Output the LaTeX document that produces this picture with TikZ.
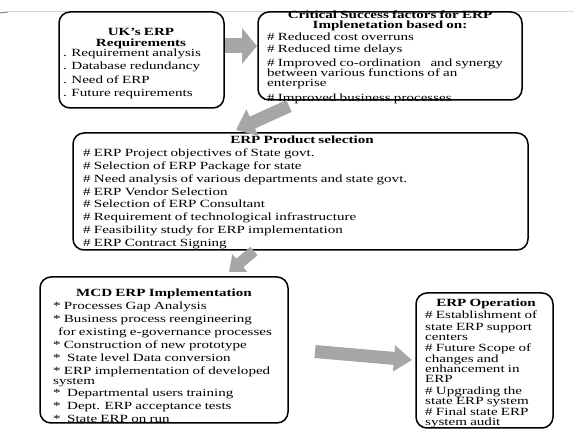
\documentclass[tikz,border=0pt]{standalone}
\usepackage{fontspec}
\setmainfont{Liberation Serif}[FakeStretch=1.37,WordSpace=0.85]
\usetikzlibrary{arrows.meta}
\definecolor{agray}{RGB}{166,166,166}
\definecolor{rulecol}{RGB}{205,218,230}
\begin{document}
\begin{tikzpicture}[x=1pt,y=-1pt,
  box/.style={draw=black, line width=1.5pt, rounded corners=11pt, inner sep=0pt},
  txt/.style={inner sep=0pt, anchor=north west, align=left},
  ttl/.style={inner sep=0pt, anchor=north, align=center},
  arrA/.style={draw=agray, line width=15pt, -{Triangle[length=15pt,width=35pt]}},
  arrB/.style={draw=agray, line width=13pt, -{Triangle[length=18pt,width=28pt]}},
  arrC/.style={draw=agray, line width=11pt, -{Triangle[length=14pt,width=22pt]}},
  arrD/.style={draw=agray, line width=13pt, -{Triangle[length=18pt,width=25pt]}}]
\useasboundingbox (0,0) rectangle (574,430);
% faint top rule
\draw[rulecol, line width=0.8pt] (8,11) -- (574,11);
\draw[gray, line width=1pt] (0,13) -- (8,12);

% boxes
\node[box, minimum width=165pt, minimum height=96pt] (b1) at (141.5,60) {};
\node[box, minimum width=264pt, minimum height=88pt] (b2) at (390,56) {};
\node[box, minimum width=455pt, minimum height=117pt] (b3) at (300.5,191.5) {};
\node[box, minimum width=248pt, minimum height=146pt] (b4) at (164,350) {};
\node[box, minimum width=137pt, minimum height=135pt] (b5) at (484.5,360.5) {};

% arrow end points
\coordinate (a1s) at (225,46);   \coordinate (a1e) at (257,46);
\coordinate (a2s) at (289,106);  \coordinate (a2e) at (236,130);
\coordinate (a3s) at (254,251);  \coordinate (a3e) at (229,272);
\coordinate (a4s) at (315,351.5);\coordinate (a4e) at (412,360);
\draw[arrA] (a1s) -- (a1e);
\draw[arrB] (a2s) -- (a2e);
\draw[arrC] (a3s) -- (a3e);
\draw[arrD] (a4s) -- (a4e);

% box 1
\node[ttl, font=\fontsize{11}{11}\selectfont\bfseries] (t1) at (141,27.6) {UK's ERP\\Requirements};
\node[txt, font=\fontsize{11}{13.3}\selectfont] (i1) at (63,48.6)
 {. Requirement analysis\\. Database redundancy\\. Need of ERP\\. Future requirements};

% box 2
\node[ttl, font=\fontsize{11}{10}\selectfont\bfseries] (t2) at (390,10.6)
 {Critical Success factors for ERP\\Implenetation based on:};
\node[txt, font=\fontsize{11}{10.5}\selectfont] (i2) at (267,32.6)
 {\# Reduced cost overruns\\[1.5pt]
  \# Reduced time delays\\[3.5pt]
  \# Improved co-ordination\ \ \ and synergy\\[-0.5pt]
  between various functions of an\\[-0.5pt]
  enterprise\\[4.5pt]
  \# Improved business processes};

% box 3
\node[ttl, font=\fontsize{11}{11}\selectfont\bfseries] (t3) at (302,135.6) {ERP Product selection};
\node[txt, font=\fontsize{11}{12.86}\selectfont] (i3) at (83,148.6)
 {\# ERP Project objectives of State govt.\\
  \# Selection of ERP Package for state\\
  \# Need analysis of various departments and state govt.\\
  \# ERP Vendor Selection\\
  \# Selection of ERP Consultant\\
  \# Requirement of technological infrastructure\\
  \# Feasibility study for ERP implementation\\
  \# ERP Contract Signing};

% box 4
\node[ttl, font=\fontsize{11}{11}\selectfont\bfseries] (t4) at (164,288.6) {MCD ERP Implementation};
\node[txt, font=\fontsize{11}{13}\selectfont] (i4) at (53,301.6)
 {* Processes Gap Analysis\\
  * Business process reengineering\\
  \hspace*{5pt}for existing e-governance processes\\
  * Construction of new prototype\\
  *\ \ State level Data conversion\\
  * ERP implementation of developed\\[-3pt]
  system\\[-1pt]
  *\ \ Departmental users training\\
  *\ \ Dept. ERP acceptance tests\\
  *\ \ State ERP on run};

% box 5
\node[ttl, font=\fontsize{11}{11}\selectfont\bfseries] (t5) at (486,298.6) {ERP Operation};
\node[txt, font=\fontsize{11}{10.2}\selectfont] (i5) at (425,310.6)
 {\# Establishment of\\[1.3pt]
  state ERP support\\
  centers\\[1.5pt]
  \# Future Scope of\\
  changes and\\
  enhancement in\\
  ERP\\[1.5pt]
  \# Upgrading the\\
  state ERP system\\[0.8pt]
  \# Final state ERP\\
  system audit};
\end{tikzpicture}
\end{document}
